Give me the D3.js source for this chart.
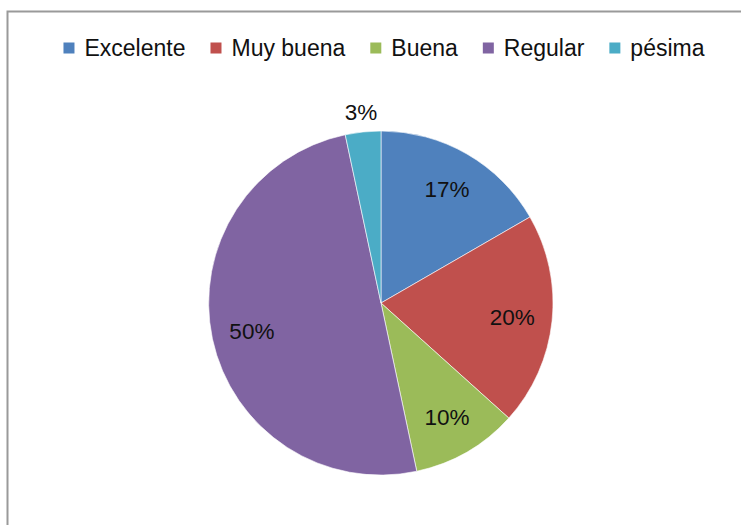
<!DOCTYPE html>
<html>
<head>
<meta charset="utf-8">
<script src="https://cdn.jsdelivr.net/npm/d3@7"></script>
<style>
  html, body { margin: 0; padding: 0; background: #fff; }
  svg { display: block; }
</style>
</head>
<body>
<svg id="chart" width="741" height="525"></svg>
<script>
// Data
const categories = ["Excelente", "Muy buena", "Buena", "Regular", "pésima"];
const values = [5, 6, 3, 15, 1];
const colors = ["#4F81BD", "#C0504D", "#9BBB59", "#8064A2", "#4BACC6"];

const W = 741, H = 525;
const svg = d3.select("#chart");
const FONT = "'Liberation Sans', Arial, sans-serif";

// Chart border
svg.append("rect")
  .attr("x", 7.5).attr("y", 11.5)
  .attr("width", 760).attr("height", 540)
  .attr("fill", "#fff")
  .attr("stroke", "#9a9a9a")
  .attr("stroke-width", 2);

const cx = 381, cy = 303, R = 172;
const total = d3.sum(values);

const pie = d3.pie().sort(null).value(d => d.v);
const arcs = pie(categories.map((c, i) => ({ c, v: values[i], color: colors[i] })));

const arc = d3.arc().innerRadius(0).outerRadius(R);
const g = svg.append("g").attr("transform", `translate(${cx},${cy})`);

g.selectAll("path.slice")
  .data(arcs)
  .join("path")
  .attr("class", "slice")
  .attr("d", arc)
  .attr("fill", d => d.data.color)
  .attr("stroke", "#fff")
  .attr("stroke-width", 0.6);

// Labels
const inner = d3.arc().innerRadius(132).outerRadius(132);
const outer = d3.arc().innerRadius(192).outerRadius(192);
g.selectAll("text.lbl")
  .data(arcs)
  .join("text")
  .attr("class", "lbl")
  .attr("transform", d => {
    const p = (d.data.v / total < 0.05 ? outer : inner).centroid(d);
    return `translate(${p[0]},${p[1]})`;
  })
  .attr("text-anchor", "middle")
  .attr("dy", "0.36em")
  .attr("font-family", FONT)
  .attr("font-size", 22.5)
  .attr("fill", "#111")
  .text(d => Math.round(d.data.v / total * 100) + "%");

// Legend
const legend = svg.append("g").attr("class", "legend");
const items = legend.selectAll("g.item")
  .data(categories)
  .join("g")
  .attr("class", "item");

items.append("rect")
  .attr("width", 11).attr("height", 11)
  .attr("y", -5.5)
  .attr("fill", (d, i) => colors[i]);

items.append("text")
  .attr("x", 21)
  .attr("dy", "0.36em")
  .attr("font-family", FONT)
  .attr("font-size", 23)
  .attr("fill", "#111")
  .text(d => d);

const gap = 25;
let widths = [];
items.each(function() {
  widths.push(21 + this.querySelector("text").getComputedTextLength());
});
const totalW = d3.sum(widths) + gap * (widths.length - 1);
let x = 384 - totalW / 2;
items.attr("transform", (d, i) => {
  const t = `translate(${x},48)`;
  x += widths[i] + gap;
  return t;
});
</script>
</body>
</html>
